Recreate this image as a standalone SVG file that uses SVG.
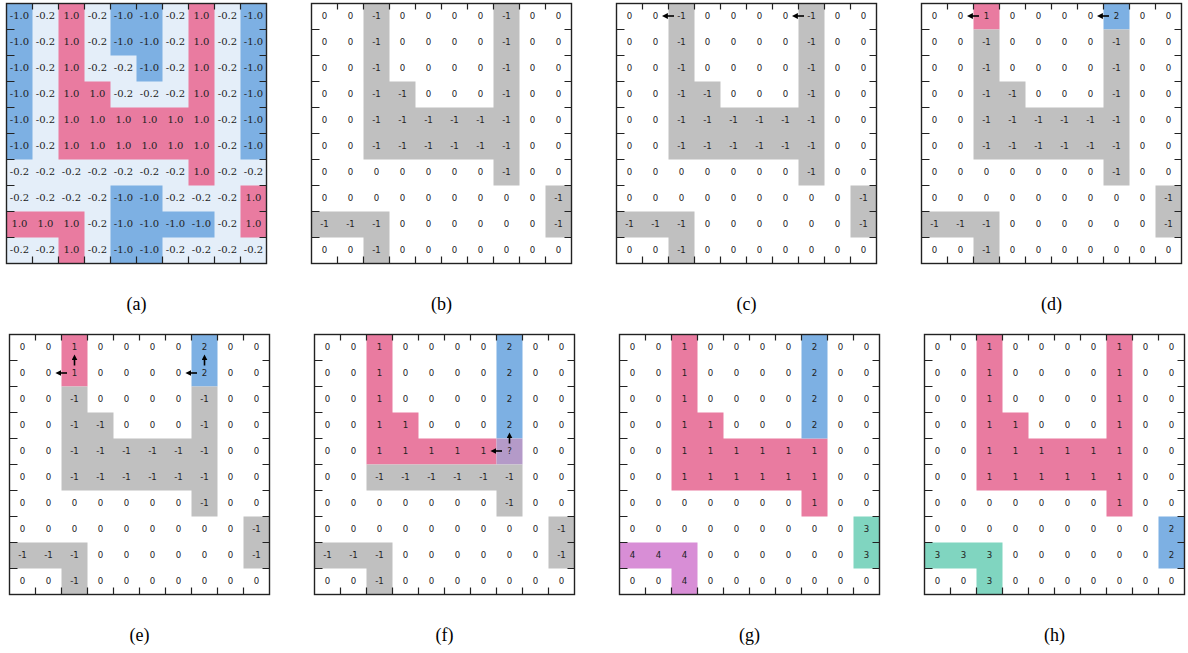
<svg xmlns="http://www.w3.org/2000/svg" xmlns:xlink="http://www.w3.org/1999/xlink" width="1188" height="653" viewBox="0 0 1188 653">
<style>
.ta{font-family:"DejaVu Serif","Liberation Serif",serif;font-size:10px;text-anchor:middle;fill:#222}
.tn{font-family:"DejaVu Sans","Liberation Sans",sans-serif;font-size:8.6px;text-anchor:middle;fill:#222}
.cap{font-family:"Liberation Serif","Times New Roman",serif;font-size:18px;text-anchor:middle;fill:#000}
.frame{fill:none;stroke:#222;stroke-width:1.4}
.tick{fill:none;stroke:#222;stroke-width:1.2}
.pk{fill:#E97BA0}.bl{fill:#7DB0E3}.lb{fill:#E4EEF9}.gr{fill:#C0C0C0}.pu{fill:#D88ED6}.te{fill:#80D5C0}.mx{fill:#B49AC8}.wh{fill:#fff}
.arr{fill:none;stroke:#000;stroke-width:1.6}
</style>
<defs>
<path id="tk" d="M26 0v6M52 0v6M78 0v6M104 0v6M130 0v6M156 0v6M182 0v6M208 0v6M234 0v6M26 260v-7M52 260v-7M78 260v-7M104 260v-7M130 260v-7M156 260v-7M182 260v-7M208 260v-7M234 260v-7M0 26h8M0 52h8M0 78h8M0 104h8M0 130h8M0 156h8M0 182h8M0 208h8M0 234h8M260 26h-7M260 52h-7M260 78h-7M260 104h-7M260 130h-7M260 156h-7M260 182h-7M260 208h-7M260 234h-7"/>
<marker id="ah" viewBox="0 0 10 10" refX="4" refY="5" markerWidth="6" markerHeight="6" markerUnits="userSpaceOnUse" orient="auto"><path d="M0,0L10,5L0,10z" fill="#000"/></marker>
</defs>
<rect width="1188" height="653" fill="#fff"/>

<g id="panel-a" transform="translate(6.5,3.5)">
<rect class="lb" width="260" height="260"/>
<path class="bl" d="M0 0h26v156h-26zM234 0h26v156h-26zM104 0h52v52h-52zM130 52h26v26h-26zM104 182h52v78h-52zM156 208h52v26h-52z"/>
<path class="pk" d="M52 0h26v156h-26zM78 78h26v78h-26zM104 104h78v52h-78zM182 0h26v182h-26zM234 182h26v52h-26zM0 208h78v26h-78zM52 234h26v26h-26z"/>
<g class="ta">
<text x="13" y="15">-1.0</text><text x="39" y="15">-0.2</text><text x="65" y="15">1.0</text><text x="91" y="15">-0.2</text><text x="117" y="15">-1.0</text><text x="143" y="15">-1.0</text><text x="169" y="15">-0.2</text><text x="195" y="15">1.0</text><text x="221" y="15">-0.2</text><text x="247" y="15">-1.0</text>
<text x="13" y="41">-1.0</text><text x="39" y="41">-0.2</text><text x="65" y="41">1.0</text><text x="91" y="41">-0.2</text><text x="117" y="41">-1.0</text><text x="143" y="41">-1.0</text><text x="169" y="41">-0.2</text><text x="195" y="41">1.0</text><text x="221" y="41">-0.2</text><text x="247" y="41">-1.0</text>
<text x="13" y="67">-1.0</text><text x="39" y="67">-0.2</text><text x="65" y="67">1.0</text><text x="91" y="67">-0.2</text><text x="117" y="67">-0.2</text><text x="143" y="67">-1.0</text><text x="169" y="67">-0.2</text><text x="195" y="67">1.0</text><text x="221" y="67">-0.2</text><text x="247" y="67">-1.0</text>
<text x="13" y="93">-1.0</text><text x="39" y="93">-0.2</text><text x="65" y="93">1.0</text><text x="91" y="93">1.0</text><text x="117" y="93">-0.2</text><text x="143" y="93">-0.2</text><text x="169" y="93">-0.2</text><text x="195" y="93">1.0</text><text x="221" y="93">-0.2</text><text x="247" y="93">-1.0</text>
<text x="13" y="119">-1.0</text><text x="39" y="119">-0.2</text><text x="65" y="119">1.0</text><text x="91" y="119">1.0</text><text x="117" y="119">1.0</text><text x="143" y="119">1.0</text><text x="169" y="119">1.0</text><text x="195" y="119">1.0</text><text x="221" y="119">-0.2</text><text x="247" y="119">-1.0</text>
<text x="13" y="145">-1.0</text><text x="39" y="145">-0.2</text><text x="65" y="145">1.0</text><text x="91" y="145">1.0</text><text x="117" y="145">1.0</text><text x="143" y="145">1.0</text><text x="169" y="145">1.0</text><text x="195" y="145">1.0</text><text x="221" y="145">-0.2</text><text x="247" y="145">-1.0</text>
<text x="13" y="171">-0.2</text><text x="39" y="171">-0.2</text><text x="65" y="171">-0.2</text><text x="91" y="171">-0.2</text><text x="117" y="171">-0.2</text><text x="143" y="171">-0.2</text><text x="169" y="171">-0.2</text><text x="195" y="171">1.0</text><text x="221" y="171">-0.2</text><text x="247" y="171">-0.2</text>
<text x="13" y="197">-0.2</text><text x="39" y="197">-0.2</text><text x="65" y="197">-0.2</text><text x="91" y="197">-0.2</text><text x="117" y="197">-1.0</text><text x="143" y="197">-1.0</text><text x="169" y="197">-0.2</text><text x="195" y="197">-0.2</text><text x="221" y="197">-0.2</text><text x="247" y="197">1.0</text>
<text x="13" y="223">1.0</text><text x="39" y="223">1.0</text><text x="65" y="223">1.0</text><text x="91" y="223">-0.2</text><text x="117" y="223">-1.0</text><text x="143" y="223">-1.0</text><text x="169" y="223">-1.0</text><text x="195" y="223">-1.0</text><text x="221" y="223">-0.2</text><text x="247" y="223">1.0</text>
<text x="13" y="249">-0.2</text><text x="39" y="249">-0.2</text><text x="65" y="249">1.0</text><text x="91" y="249">-0.2</text><text x="117" y="249">-1.0</text><text x="143" y="249">-1.0</text><text x="169" y="249">-0.2</text><text x="195" y="249">-0.2</text><text x="221" y="249">-0.2</text><text x="247" y="249">-0.2</text>
</g>
<rect class="frame" width="260" height="260"/><use href="#tk" xlink:href="#tk" class="tick"/>
<text class="cap" x="130" y="306.5">(a)</text>
</g>

<g id="panel-b" transform="translate(311.5,3.5)">
<rect class="wh" width="260" height="260"/>
<path class="gr" d="M52 0h26v156h-26zM78 78h26v78h-26zM104 104h78v52h-78zM182 0h26v182h-26zM234 182h26v52h-26zM0 208h78v26h-78zM52 234h26v26h-26z"/>
<g class="tn">
<text x="13" y="15.5">0</text><text x="39" y="15.5">0</text><text x="65" y="15.5">-1</text><text x="91" y="15.5">0</text><text x="117" y="15.5">0</text><text x="143" y="15.5">0</text><text x="169" y="15.5">0</text><text x="195" y="15.5">-1</text><text x="221" y="15.5">0</text><text x="247" y="15.5">0</text>
<text x="13" y="41.5">0</text><text x="39" y="41.5">0</text><text x="65" y="41.5">-1</text><text x="91" y="41.5">0</text><text x="117" y="41.5">0</text><text x="143" y="41.5">0</text><text x="169" y="41.5">0</text><text x="195" y="41.5">-1</text><text x="221" y="41.5">0</text><text x="247" y="41.5">0</text>
<text x="13" y="67.5">0</text><text x="39" y="67.5">0</text><text x="65" y="67.5">-1</text><text x="91" y="67.5">0</text><text x="117" y="67.5">0</text><text x="143" y="67.5">0</text><text x="169" y="67.5">0</text><text x="195" y="67.5">-1</text><text x="221" y="67.5">0</text><text x="247" y="67.5">0</text>
<text x="13" y="93.5">0</text><text x="39" y="93.5">0</text><text x="65" y="93.5">-1</text><text x="91" y="93.5">-1</text><text x="117" y="93.5">0</text><text x="143" y="93.5">0</text><text x="169" y="93.5">0</text><text x="195" y="93.5">-1</text><text x="221" y="93.5">0</text><text x="247" y="93.5">0</text>
<text x="13" y="119.5">0</text><text x="39" y="119.5">0</text><text x="65" y="119.5">-1</text><text x="91" y="119.5">-1</text><text x="117" y="119.5">-1</text><text x="143" y="119.5">-1</text><text x="169" y="119.5">-1</text><text x="195" y="119.5">-1</text><text x="221" y="119.5">0</text><text x="247" y="119.5">0</text>
<text x="13" y="145.5">0</text><text x="39" y="145.5">0</text><text x="65" y="145.5">-1</text><text x="91" y="145.5">-1</text><text x="117" y="145.5">-1</text><text x="143" y="145.5">-1</text><text x="169" y="145.5">-1</text><text x="195" y="145.5">-1</text><text x="221" y="145.5">0</text><text x="247" y="145.5">0</text>
<text x="13" y="171.5">0</text><text x="39" y="171.5">0</text><text x="65" y="171.5">0</text><text x="91" y="171.5">0</text><text x="117" y="171.5">0</text><text x="143" y="171.5">0</text><text x="169" y="171.5">0</text><text x="195" y="171.5">-1</text><text x="221" y="171.5">0</text><text x="247" y="171.5">0</text>
<text x="13" y="197.5">0</text><text x="39" y="197.5">0</text><text x="65" y="197.5">0</text><text x="91" y="197.5">0</text><text x="117" y="197.5">0</text><text x="143" y="197.5">0</text><text x="169" y="197.5">0</text><text x="195" y="197.5">0</text><text x="221" y="197.5">0</text><text x="247" y="197.5">-1</text>
<text x="13" y="223.5">-1</text><text x="39" y="223.5">-1</text><text x="65" y="223.5">-1</text><text x="91" y="223.5">0</text><text x="117" y="223.5">0</text><text x="143" y="223.5">0</text><text x="169" y="223.5">0</text><text x="195" y="223.5">0</text><text x="221" y="223.5">0</text><text x="247" y="223.5">-1</text>
<text x="13" y="249.5">0</text><text x="39" y="249.5">0</text><text x="65" y="249.5">-1</text><text x="91" y="249.5">0</text><text x="117" y="249.5">0</text><text x="143" y="249.5">0</text><text x="169" y="249.5">0</text><text x="195" y="249.5">0</text><text x="221" y="249.5">0</text><text x="247" y="249.5">0</text>
</g>
<rect class="frame" width="260" height="260"/><use href="#tk" xlink:href="#tk" class="tick"/>
<text class="cap" x="130" y="306.5">(b)</text>
</g>

<g id="panel-c" transform="translate(616.5,3.5)">
<rect class="wh" width="260" height="260"/>
<path class="gr" d="M52 0h26v156h-26zM78 78h26v78h-26zM104 104h78v52h-78zM182 0h26v182h-26zM234 182h26v52h-26zM0 208h78v26h-78zM52 234h26v26h-26z"/>
<g class="tn">
<text x="13" y="15.5">0</text><text x="39" y="15.5">0</text><text x="65" y="15.5">-1</text><text x="91" y="15.5">0</text><text x="117" y="15.5">0</text><text x="143" y="15.5">0</text><text x="169" y="15.5">0</text><text x="195" y="15.5">-1</text><text x="221" y="15.5">0</text><text x="247" y="15.5">0</text>
<text x="13" y="41.5">0</text><text x="39" y="41.5">0</text><text x="65" y="41.5">-1</text><text x="91" y="41.5">0</text><text x="117" y="41.5">0</text><text x="143" y="41.5">0</text><text x="169" y="41.5">0</text><text x="195" y="41.5">-1</text><text x="221" y="41.5">0</text><text x="247" y="41.5">0</text>
<text x="13" y="67.5">0</text><text x="39" y="67.5">0</text><text x="65" y="67.5">-1</text><text x="91" y="67.5">0</text><text x="117" y="67.5">0</text><text x="143" y="67.5">0</text><text x="169" y="67.5">0</text><text x="195" y="67.5">-1</text><text x="221" y="67.5">0</text><text x="247" y="67.5">0</text>
<text x="13" y="93.5">0</text><text x="39" y="93.5">0</text><text x="65" y="93.5">-1</text><text x="91" y="93.5">-1</text><text x="117" y="93.5">0</text><text x="143" y="93.5">0</text><text x="169" y="93.5">0</text><text x="195" y="93.5">-1</text><text x="221" y="93.5">0</text><text x="247" y="93.5">0</text>
<text x="13" y="119.5">0</text><text x="39" y="119.5">0</text><text x="65" y="119.5">-1</text><text x="91" y="119.5">-1</text><text x="117" y="119.5">-1</text><text x="143" y="119.5">-1</text><text x="169" y="119.5">-1</text><text x="195" y="119.5">-1</text><text x="221" y="119.5">0</text><text x="247" y="119.5">0</text>
<text x="13" y="145.5">0</text><text x="39" y="145.5">0</text><text x="65" y="145.5">-1</text><text x="91" y="145.5">-1</text><text x="117" y="145.5">-1</text><text x="143" y="145.5">-1</text><text x="169" y="145.5">-1</text><text x="195" y="145.5">-1</text><text x="221" y="145.5">0</text><text x="247" y="145.5">0</text>
<text x="13" y="171.5">0</text><text x="39" y="171.5">0</text><text x="65" y="171.5">0</text><text x="91" y="171.5">0</text><text x="117" y="171.5">0</text><text x="143" y="171.5">0</text><text x="169" y="171.5">0</text><text x="195" y="171.5">-1</text><text x="221" y="171.5">0</text><text x="247" y="171.5">0</text>
<text x="13" y="197.5">0</text><text x="39" y="197.5">0</text><text x="65" y="197.5">0</text><text x="91" y="197.5">0</text><text x="117" y="197.5">0</text><text x="143" y="197.5">0</text><text x="169" y="197.5">0</text><text x="195" y="197.5">0</text><text x="221" y="197.5">0</text><text x="247" y="197.5">-1</text>
<text x="13" y="223.5">-1</text><text x="39" y="223.5">-1</text><text x="65" y="223.5">-1</text><text x="91" y="223.5">0</text><text x="117" y="223.5">0</text><text x="143" y="223.5">0</text><text x="169" y="223.5">0</text><text x="195" y="223.5">0</text><text x="221" y="223.5">0</text><text x="247" y="223.5">-1</text>
<text x="13" y="249.5">0</text><text x="39" y="249.5">0</text><text x="65" y="249.5">-1</text><text x="91" y="249.5">0</text><text x="117" y="249.5">0</text><text x="143" y="249.5">0</text><text x="169" y="249.5">0</text><text x="195" y="249.5">0</text><text x="221" y="249.5">0</text><text x="247" y="249.5">0</text>
</g>
<rect class="frame" width="260" height="260"/><use href="#tk" xlink:href="#tk" class="tick"/>
<text class="cap" x="130" y="306.5">(c)</text>
</g>

<g id="panel-d" transform="translate(921.5,3.5)">
<rect class="wh" width="260" height="260"/>
<path class="pk" d="M52 0h26v26h-26z"/>
<path class="bl" d="M182 0h26v26h-26z"/>
<path class="gr" d="M52 26h26v130h-26zM78 78h26v78h-26zM104 104h78v52h-78zM182 26h26v156h-26zM234 182h26v52h-26zM0 208h78v26h-78zM52 234h26v26h-26z"/>
<g class="tn">
<text x="13" y="15.5">0</text><text x="39" y="15.5">0</text><text x="65" y="15.5">1</text><text x="91" y="15.5">0</text><text x="117" y="15.5">0</text><text x="143" y="15.5">0</text><text x="169" y="15.5">0</text><text x="195" y="15.5">2</text><text x="221" y="15.5">0</text><text x="247" y="15.5">0</text>
<text x="13" y="41.5">0</text><text x="39" y="41.5">0</text><text x="65" y="41.5">-1</text><text x="91" y="41.5">0</text><text x="117" y="41.5">0</text><text x="143" y="41.5">0</text><text x="169" y="41.5">0</text><text x="195" y="41.5">-1</text><text x="221" y="41.5">0</text><text x="247" y="41.5">0</text>
<text x="13" y="67.5">0</text><text x="39" y="67.5">0</text><text x="65" y="67.5">-1</text><text x="91" y="67.5">0</text><text x="117" y="67.5">0</text><text x="143" y="67.5">0</text><text x="169" y="67.5">0</text><text x="195" y="67.5">-1</text><text x="221" y="67.5">0</text><text x="247" y="67.5">0</text>
<text x="13" y="93.5">0</text><text x="39" y="93.5">0</text><text x="65" y="93.5">-1</text><text x="91" y="93.5">-1</text><text x="117" y="93.5">0</text><text x="143" y="93.5">0</text><text x="169" y="93.5">0</text><text x="195" y="93.5">-1</text><text x="221" y="93.5">0</text><text x="247" y="93.5">0</text>
<text x="13" y="119.5">0</text><text x="39" y="119.5">0</text><text x="65" y="119.5">-1</text><text x="91" y="119.5">-1</text><text x="117" y="119.5">-1</text><text x="143" y="119.5">-1</text><text x="169" y="119.5">-1</text><text x="195" y="119.5">-1</text><text x="221" y="119.5">0</text><text x="247" y="119.5">0</text>
<text x="13" y="145.5">0</text><text x="39" y="145.5">0</text><text x="65" y="145.5">-1</text><text x="91" y="145.5">-1</text><text x="117" y="145.5">-1</text><text x="143" y="145.5">-1</text><text x="169" y="145.5">-1</text><text x="195" y="145.5">-1</text><text x="221" y="145.5">0</text><text x="247" y="145.5">0</text>
<text x="13" y="171.5">0</text><text x="39" y="171.5">0</text><text x="65" y="171.5">0</text><text x="91" y="171.5">0</text><text x="117" y="171.5">0</text><text x="143" y="171.5">0</text><text x="169" y="171.5">0</text><text x="195" y="171.5">-1</text><text x="221" y="171.5">0</text><text x="247" y="171.5">0</text>
<text x="13" y="197.5">0</text><text x="39" y="197.5">0</text><text x="65" y="197.5">0</text><text x="91" y="197.5">0</text><text x="117" y="197.5">0</text><text x="143" y="197.5">0</text><text x="169" y="197.5">0</text><text x="195" y="197.5">0</text><text x="221" y="197.5">0</text><text x="247" y="197.5">-1</text>
<text x="13" y="223.5">-1</text><text x="39" y="223.5">-1</text><text x="65" y="223.5">-1</text><text x="91" y="223.5">0</text><text x="117" y="223.5">0</text><text x="143" y="223.5">0</text><text x="169" y="223.5">0</text><text x="195" y="223.5">0</text><text x="221" y="223.5">0</text><text x="247" y="223.5">-1</text>
<text x="13" y="249.5">0</text><text x="39" y="249.5">0</text><text x="65" y="249.5">-1</text><text x="91" y="249.5">0</text><text x="117" y="249.5">0</text><text x="143" y="249.5">0</text><text x="169" y="249.5">0</text><text x="195" y="249.5">0</text><text x="221" y="249.5">0</text><text x="247" y="249.5">0</text>
</g>
<rect class="frame" width="260" height="260"/><use href="#tk" xlink:href="#tk" class="tick"/>
<text class="cap" x="130" y="306.5">(d)</text>
</g>

<g id="panel-e" transform="translate(9.5,334.5)">
<rect class="wh" width="260" height="260"/>
<path class="pk" d="M52 0h26v52h-26z"/>
<path class="bl" d="M182 0h26v52h-26z"/>
<path class="gr" d="M52 52h26v104h-26zM78 78h26v78h-26zM104 104h78v52h-78zM182 52h26v130h-26zM234 182h26v52h-26zM0 208h78v26h-78zM52 234h26v26h-26z"/>
<g class="tn">
<text x="13" y="15.5">0</text><text x="39" y="15.5">0</text><text x="65" y="15.5">1</text><text x="91" y="15.5">0</text><text x="117" y="15.5">0</text><text x="143" y="15.5">0</text><text x="169" y="15.5">0</text><text x="195" y="15.5">2</text><text x="221" y="15.5">0</text><text x="247" y="15.5">0</text>
<text x="13" y="41.5">0</text><text x="39" y="41.5">0</text><text x="65" y="41.5">1</text><text x="91" y="41.5">0</text><text x="117" y="41.5">0</text><text x="143" y="41.5">0</text><text x="169" y="41.5">0</text><text x="195" y="41.5">2</text><text x="221" y="41.5">0</text><text x="247" y="41.5">0</text>
<text x="13" y="67.5">0</text><text x="39" y="67.5">0</text><text x="65" y="67.5">-1</text><text x="91" y="67.5">0</text><text x="117" y="67.5">0</text><text x="143" y="67.5">0</text><text x="169" y="67.5">0</text><text x="195" y="67.5">-1</text><text x="221" y="67.5">0</text><text x="247" y="67.5">0</text>
<text x="13" y="93.5">0</text><text x="39" y="93.5">0</text><text x="65" y="93.5">-1</text><text x="91" y="93.5">-1</text><text x="117" y="93.5">0</text><text x="143" y="93.5">0</text><text x="169" y="93.5">0</text><text x="195" y="93.5">-1</text><text x="221" y="93.5">0</text><text x="247" y="93.5">0</text>
<text x="13" y="119.5">0</text><text x="39" y="119.5">0</text><text x="65" y="119.5">-1</text><text x="91" y="119.5">-1</text><text x="117" y="119.5">-1</text><text x="143" y="119.5">-1</text><text x="169" y="119.5">-1</text><text x="195" y="119.5">-1</text><text x="221" y="119.5">0</text><text x="247" y="119.5">0</text>
<text x="13" y="145.5">0</text><text x="39" y="145.5">0</text><text x="65" y="145.5">-1</text><text x="91" y="145.5">-1</text><text x="117" y="145.5">-1</text><text x="143" y="145.5">-1</text><text x="169" y="145.5">-1</text><text x="195" y="145.5">-1</text><text x="221" y="145.5">0</text><text x="247" y="145.5">0</text>
<text x="13" y="171.5">0</text><text x="39" y="171.5">0</text><text x="65" y="171.5">0</text><text x="91" y="171.5">0</text><text x="117" y="171.5">0</text><text x="143" y="171.5">0</text><text x="169" y="171.5">0</text><text x="195" y="171.5">-1</text><text x="221" y="171.5">0</text><text x="247" y="171.5">0</text>
<text x="13" y="197.5">0</text><text x="39" y="197.5">0</text><text x="65" y="197.5">0</text><text x="91" y="197.5">0</text><text x="117" y="197.5">0</text><text x="143" y="197.5">0</text><text x="169" y="197.5">0</text><text x="195" y="197.5">0</text><text x="221" y="197.5">0</text><text x="247" y="197.5">-1</text>
<text x="13" y="223.5">-1</text><text x="39" y="223.5">-1</text><text x="65" y="223.5">-1</text><text x="91" y="223.5">0</text><text x="117" y="223.5">0</text><text x="143" y="223.5">0</text><text x="169" y="223.5">0</text><text x="195" y="223.5">0</text><text x="221" y="223.5">0</text><text x="247" y="223.5">-1</text>
<text x="13" y="249.5">0</text><text x="39" y="249.5">0</text><text x="65" y="249.5">-1</text><text x="91" y="249.5">0</text><text x="117" y="249.5">0</text><text x="143" y="249.5">0</text><text x="169" y="249.5">0</text><text x="195" y="249.5">0</text><text x="221" y="249.5">0</text><text x="247" y="249.5">0</text>
</g>
<rect class="frame" width="260" height="260"/><use href="#tk" xlink:href="#tk" class="tick"/>
<text class="cap" x="130" y="306">(e)</text>
</g>

<g id="panel-f" transform="translate(314.5,334.5)">
<rect class="wh" width="260" height="260"/>
<path class="pk" d="M52 0h26v130h-26zM78 78h26v52h-26zM104 104h78v26h-78z"/>
<path class="bl" d="M182 0h26v104h-26z"/>
<path class="mx" d="M182 104h26v26h-26z"/>
<path class="gr" d="M52 130h156v26h-156zM182 156h26v26h-26zM234 182h26v52h-26zM0 208h78v26h-78zM52 234h26v26h-26z"/>
<g class="tn">
<text x="13" y="15.5">0</text><text x="39" y="15.5">0</text><text x="65" y="15.5">1</text><text x="91" y="15.5">0</text><text x="117" y="15.5">0</text><text x="143" y="15.5">0</text><text x="169" y="15.5">0</text><text x="195" y="15.5">2</text><text x="221" y="15.5">0</text><text x="247" y="15.5">0</text>
<text x="13" y="41.5">0</text><text x="39" y="41.5">0</text><text x="65" y="41.5">1</text><text x="91" y="41.5">0</text><text x="117" y="41.5">0</text><text x="143" y="41.5">0</text><text x="169" y="41.5">0</text><text x="195" y="41.5">2</text><text x="221" y="41.5">0</text><text x="247" y="41.5">0</text>
<text x="13" y="67.5">0</text><text x="39" y="67.5">0</text><text x="65" y="67.5">1</text><text x="91" y="67.5">0</text><text x="117" y="67.5">0</text><text x="143" y="67.5">0</text><text x="169" y="67.5">0</text><text x="195" y="67.5">2</text><text x="221" y="67.5">0</text><text x="247" y="67.5">0</text>
<text x="13" y="93.5">0</text><text x="39" y="93.5">0</text><text x="65" y="93.5">1</text><text x="91" y="93.5">1</text><text x="117" y="93.5">0</text><text x="143" y="93.5">0</text><text x="169" y="93.5">0</text><text x="195" y="93.5">2</text><text x="221" y="93.5">0</text><text x="247" y="93.5">0</text>
<text x="13" y="119.5">0</text><text x="39" y="119.5">0</text><text x="65" y="119.5">1</text><text x="91" y="119.5">1</text><text x="117" y="119.5">1</text><text x="143" y="119.5">1</text><text x="169" y="119.5">1</text><text x="195" y="119.5">?</text><text x="221" y="119.5">0</text><text x="247" y="119.5">0</text>
<text x="13" y="145.5">0</text><text x="39" y="145.5">0</text><text x="65" y="145.5">-1</text><text x="91" y="145.5">-1</text><text x="117" y="145.5">-1</text><text x="143" y="145.5">-1</text><text x="169" y="145.5">-1</text><text x="195" y="145.5">-1</text><text x="221" y="145.5">0</text><text x="247" y="145.5">0</text>
<text x="13" y="171.5">0</text><text x="39" y="171.5">0</text><text x="65" y="171.5">0</text><text x="91" y="171.5">0</text><text x="117" y="171.5">0</text><text x="143" y="171.5">0</text><text x="169" y="171.5">0</text><text x="195" y="171.5">-1</text><text x="221" y="171.5">0</text><text x="247" y="171.5">0</text>
<text x="13" y="197.5">0</text><text x="39" y="197.5">0</text><text x="65" y="197.5">0</text><text x="91" y="197.5">0</text><text x="117" y="197.5">0</text><text x="143" y="197.5">0</text><text x="169" y="197.5">0</text><text x="195" y="197.5">0</text><text x="221" y="197.5">0</text><text x="247" y="197.5">-1</text>
<text x="13" y="223.5">-1</text><text x="39" y="223.5">-1</text><text x="65" y="223.5">-1</text><text x="91" y="223.5">0</text><text x="117" y="223.5">0</text><text x="143" y="223.5">0</text><text x="169" y="223.5">0</text><text x="195" y="223.5">0</text><text x="221" y="223.5">0</text><text x="247" y="223.5">-1</text>
<text x="13" y="249.5">0</text><text x="39" y="249.5">0</text><text x="65" y="249.5">-1</text><text x="91" y="249.5">0</text><text x="117" y="249.5">0</text><text x="143" y="249.5">0</text><text x="169" y="249.5">0</text><text x="195" y="249.5">0</text><text x="221" y="249.5">0</text><text x="247" y="249.5">0</text>
</g>
<rect class="frame" width="260" height="260"/><use href="#tk" xlink:href="#tk" class="tick"/>
<text class="cap" x="130" y="306">(f)</text>
</g>

<g id="panel-g" transform="translate(619.5,334.5)">
<rect class="wh" width="260" height="260"/>
<path class="pk" d="M52 0h26v156h-26zM78 78h26v78h-26zM104 104h78v52h-78zM182 104h26v78h-26z"/>
<path class="bl" d="M182 0h26v104h-26z"/>
<path class="te" d="M234 182h26v52h-26z"/>
<path class="pu" d="M0 208h78v26h-78zM52 234h26v26h-26z"/>
<g class="tn">
<text x="13" y="15.5">0</text><text x="39" y="15.5">0</text><text x="65" y="15.5">1</text><text x="91" y="15.5">0</text><text x="117" y="15.5">0</text><text x="143" y="15.5">0</text><text x="169" y="15.5">0</text><text x="195" y="15.5">2</text><text x="221" y="15.5">0</text><text x="247" y="15.5">0</text>
<text x="13" y="41.5">0</text><text x="39" y="41.5">0</text><text x="65" y="41.5">1</text><text x="91" y="41.5">0</text><text x="117" y="41.5">0</text><text x="143" y="41.5">0</text><text x="169" y="41.5">0</text><text x="195" y="41.5">2</text><text x="221" y="41.5">0</text><text x="247" y="41.5">0</text>
<text x="13" y="67.5">0</text><text x="39" y="67.5">0</text><text x="65" y="67.5">1</text><text x="91" y="67.5">0</text><text x="117" y="67.5">0</text><text x="143" y="67.5">0</text><text x="169" y="67.5">0</text><text x="195" y="67.5">2</text><text x="221" y="67.5">0</text><text x="247" y="67.5">0</text>
<text x="13" y="93.5">0</text><text x="39" y="93.5">0</text><text x="65" y="93.5">1</text><text x="91" y="93.5">1</text><text x="117" y="93.5">0</text><text x="143" y="93.5">0</text><text x="169" y="93.5">0</text><text x="195" y="93.5">2</text><text x="221" y="93.5">0</text><text x="247" y="93.5">0</text>
<text x="13" y="119.5">0</text><text x="39" y="119.5">0</text><text x="65" y="119.5">1</text><text x="91" y="119.5">1</text><text x="117" y="119.5">1</text><text x="143" y="119.5">1</text><text x="169" y="119.5">1</text><text x="195" y="119.5">1</text><text x="221" y="119.5">0</text><text x="247" y="119.5">0</text>
<text x="13" y="145.5">0</text><text x="39" y="145.5">0</text><text x="65" y="145.5">1</text><text x="91" y="145.5">1</text><text x="117" y="145.5">1</text><text x="143" y="145.5">1</text><text x="169" y="145.5">1</text><text x="195" y="145.5">1</text><text x="221" y="145.5">0</text><text x="247" y="145.5">0</text>
<text x="13" y="171.5">0</text><text x="39" y="171.5">0</text><text x="65" y="171.5">0</text><text x="91" y="171.5">0</text><text x="117" y="171.5">0</text><text x="143" y="171.5">0</text><text x="169" y="171.5">0</text><text x="195" y="171.5">1</text><text x="221" y="171.5">0</text><text x="247" y="171.5">0</text>
<text x="13" y="197.5">0</text><text x="39" y="197.5">0</text><text x="65" y="197.5">0</text><text x="91" y="197.5">0</text><text x="117" y="197.5">0</text><text x="143" y="197.5">0</text><text x="169" y="197.5">0</text><text x="195" y="197.5">0</text><text x="221" y="197.5">0</text><text x="247" y="197.5">3</text>
<text x="13" y="223.5">4</text><text x="39" y="223.5">4</text><text x="65" y="223.5">4</text><text x="91" y="223.5">0</text><text x="117" y="223.5">0</text><text x="143" y="223.5">0</text><text x="169" y="223.5">0</text><text x="195" y="223.5">0</text><text x="221" y="223.5">0</text><text x="247" y="223.5">3</text>
<text x="13" y="249.5">0</text><text x="39" y="249.5">0</text><text x="65" y="249.5">4</text><text x="91" y="249.5">0</text><text x="117" y="249.5">0</text><text x="143" y="249.5">0</text><text x="169" y="249.5">0</text><text x="195" y="249.5">0</text><text x="221" y="249.5">0</text><text x="247" y="249.5">0</text>
</g>
<rect class="frame" width="260" height="260"/><use href="#tk" xlink:href="#tk" class="tick"/>
<text class="cap" x="130" y="306">(g)</text>
</g>

<g id="panel-h" transform="translate(924.5,334.5)">
<rect class="wh" width="260" height="260"/>
<path class="pk" d="M52 0h26v156h-26zM78 78h26v78h-26zM104 104h78v52h-78zM182 0h26v182h-26z"/>
<path class="bl" d="M234 182h26v52h-26z"/>
<path class="te" d="M0 208h78v26h-78zM52 234h26v26h-26z"/>
<g class="tn">
<text x="13" y="15.5">0</text><text x="39" y="15.5">0</text><text x="65" y="15.5">1</text><text x="91" y="15.5">0</text><text x="117" y="15.5">0</text><text x="143" y="15.5">0</text><text x="169" y="15.5">0</text><text x="195" y="15.5">1</text><text x="221" y="15.5">0</text><text x="247" y="15.5">0</text>
<text x="13" y="41.5">0</text><text x="39" y="41.5">0</text><text x="65" y="41.5">1</text><text x="91" y="41.5">0</text><text x="117" y="41.5">0</text><text x="143" y="41.5">0</text><text x="169" y="41.5">0</text><text x="195" y="41.5">1</text><text x="221" y="41.5">0</text><text x="247" y="41.5">0</text>
<text x="13" y="67.5">0</text><text x="39" y="67.5">0</text><text x="65" y="67.5">1</text><text x="91" y="67.5">0</text><text x="117" y="67.5">0</text><text x="143" y="67.5">0</text><text x="169" y="67.5">0</text><text x="195" y="67.5">1</text><text x="221" y="67.5">0</text><text x="247" y="67.5">0</text>
<text x="13" y="93.5">0</text><text x="39" y="93.5">0</text><text x="65" y="93.5">1</text><text x="91" y="93.5">1</text><text x="117" y="93.5">0</text><text x="143" y="93.5">0</text><text x="169" y="93.5">0</text><text x="195" y="93.5">1</text><text x="221" y="93.5">0</text><text x="247" y="93.5">0</text>
<text x="13" y="119.5">0</text><text x="39" y="119.5">0</text><text x="65" y="119.5">1</text><text x="91" y="119.5">1</text><text x="117" y="119.5">1</text><text x="143" y="119.5">1</text><text x="169" y="119.5">1</text><text x="195" y="119.5">1</text><text x="221" y="119.5">0</text><text x="247" y="119.5">0</text>
<text x="13" y="145.5">0</text><text x="39" y="145.5">0</text><text x="65" y="145.5">1</text><text x="91" y="145.5">1</text><text x="117" y="145.5">1</text><text x="143" y="145.5">1</text><text x="169" y="145.5">1</text><text x="195" y="145.5">1</text><text x="221" y="145.5">0</text><text x="247" y="145.5">0</text>
<text x="13" y="171.5">0</text><text x="39" y="171.5">0</text><text x="65" y="171.5">0</text><text x="91" y="171.5">0</text><text x="117" y="171.5">0</text><text x="143" y="171.5">0</text><text x="169" y="171.5">0</text><text x="195" y="171.5">1</text><text x="221" y="171.5">0</text><text x="247" y="171.5">0</text>
<text x="13" y="197.5">0</text><text x="39" y="197.5">0</text><text x="65" y="197.5">0</text><text x="91" y="197.5">0</text><text x="117" y="197.5">0</text><text x="143" y="197.5">0</text><text x="169" y="197.5">0</text><text x="195" y="197.5">0</text><text x="221" y="197.5">0</text><text x="247" y="197.5">2</text>
<text x="13" y="223.5">3</text><text x="39" y="223.5">3</text><text x="65" y="223.5">3</text><text x="91" y="223.5">0</text><text x="117" y="223.5">0</text><text x="143" y="223.5">0</text><text x="169" y="223.5">0</text><text x="195" y="223.5">0</text><text x="221" y="223.5">0</text><text x="247" y="223.5">2</text>
<text x="13" y="249.5">0</text><text x="39" y="249.5">0</text><text x="65" y="249.5">3</text><text x="91" y="249.5">0</text><text x="117" y="249.5">0</text><text x="143" y="249.5">0</text><text x="169" y="249.5">0</text><text x="195" y="249.5">0</text><text x="221" y="249.5">0</text><text x="247" y="249.5">0</text>
</g>
<rect class="frame" width="260" height="260"/><use href="#tk" xlink:href="#tk" class="tick"/>
<text class="cap" x="130" y="306">(h)</text>
</g>

<g id="connectors" class="arr" marker-end="url(#ah)">
<path d="M674 16H665.5"/>
<path d="M804 16H795.5"/>
<path d="M979 16H970.5"/>
<path d="M1109 16H1100.5"/>
<path d="M74.5 365.5V358"/>
<path d="M67 373H59"/>
<path d="M204.5 365.5V358"/>
<path d="M197 373H189"/>
<path d="M509.5 443.5V436"/>
<path d="M502 451H494"/>
</g>
</svg>
